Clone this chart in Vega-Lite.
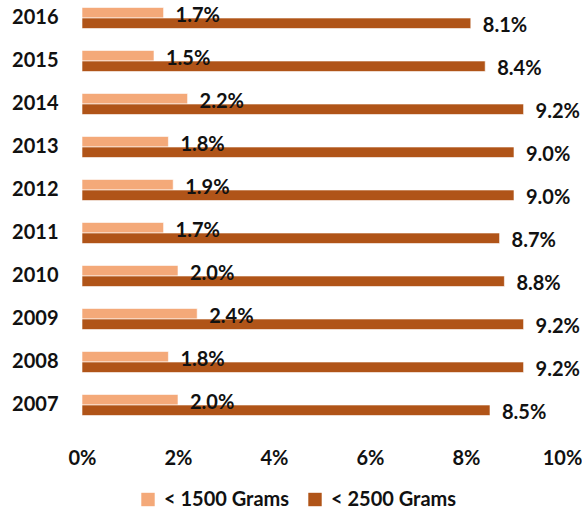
{
  "$schema": "https://vega.github.io/schema/vega-lite/v6.json",
  "width": 480,
  "height": 430,
  "autosize": "none",
  "padding": {"left": 82, "top": -3.5, "right": 20, "bottom": 85.5},
  "background": "white",
  "config": {
    "view": {"stroke": null},
    "font": "Lato",
    "axis": {"labelFont": "Lato", "labelFontWeight": "bold", "labelFontSize": 20, "labelColor": "#111111"},
    "legend": {"labelFont": "Lato", "labelFontWeight": "bold", "labelFontSize": 20, "labelColor": "#111111"}
  },
  "data": {
    "values": [
      {"year": "2016", "series": "< 1500 Grams", "value": 0.017},
      {"year": "2016", "series": "< 2500 Grams", "value": 0.081},
      {"year": "2015", "series": "< 1500 Grams", "value": 0.015},
      {"year": "2015", "series": "< 2500 Grams", "value": 0.084},
      {"year": "2014", "series": "< 1500 Grams", "value": 0.022},
      {"year": "2014", "series": "< 2500 Grams", "value": 0.092},
      {"year": "2013", "series": "< 1500 Grams", "value": 0.018},
      {"year": "2013", "series": "< 2500 Grams", "value": 0.090},
      {"year": "2012", "series": "< 1500 Grams", "value": 0.019},
      {"year": "2012", "series": "< 2500 Grams", "value": 0.090},
      {"year": "2011", "series": "< 1500 Grams", "value": 0.017},
      {"year": "2011", "series": "< 2500 Grams", "value": 0.087},
      {"year": "2010", "series": "< 1500 Grams", "value": 0.020},
      {"year": "2010", "series": "< 2500 Grams", "value": 0.088},
      {"year": "2009", "series": "< 1500 Grams", "value": 0.024},
      {"year": "2009", "series": "< 2500 Grams", "value": 0.092},
      {"year": "2008", "series": "< 1500 Grams", "value": 0.018},
      {"year": "2008", "series": "< 2500 Grams", "value": 0.092},
      {"year": "2007", "series": "< 1500 Grams", "value": 0.020},
      {"year": "2007", "series": "< 2500 Grams", "value": 0.085}
    ]
  },
  "encoding": {
    "y": {
      "field": "year", "type": "nominal", "sort": "descending", "title": null,
      "scale": {"paddingInner": 0.51, "paddingOuter": 0.255},
      "axis": {"ticks": false, "domain": false, "labelPadding": 24}
    },
    "yOffset": {
      "field": "series", "type": "nominal", "sort": ["< 1500 Grams", "< 2500 Grams"],
      "scale": {"paddingInner": 0, "paddingOuter": 0}
    },
    "x": {
      "field": "value", "type": "quantitative", "title": null,
      "scale": {"domain": [0, 0.1], "nice": false},
      "axis": {"values": [0, 0.02, 0.04, 0.06, 0.08, 0.1], "format": ".0%", "grid": false, "ticks": false, "domain": false, "labelPadding": 22, "labelFlush": false, "labelOverlap": false, "labelBound": false}
    }
  },
  "layer": [
    {
      "mark": {"type": "bar", "stroke": "white", "strokeWidth": 0.6},
      "encoding": {
        "color": {
          "field": "series", "type": "nominal", "title": null,
          "sort": ["< 1500 Grams", "< 2500 Grams"],
          "scale": {"domain": ["< 1500 Grams", "< 2500 Grams"], "range": ["#F4A979", "#B05418"]},
          "legend": {"orient": "none", "legendX": 56, "legendY": 493, "direction": "horizontal", "symbolType": "square", "symbolSize": 180, "symbolStrokeWidth": 0, "labelOffset": 6, "columnPadding": 15}
        }
      }
    },
    {
      "mark": {"type": "text", "align": "left", "baseline": "middle", "dx": 12, "dy": 3, "fontWeight": "bold", "fontSize": 20, "font": "Lato", "color": "#111111"},
      "encoding": {
        "text": {"field": "value", "type": "quantitative", "format": ".1%"}
      }
    }
  ]
}
